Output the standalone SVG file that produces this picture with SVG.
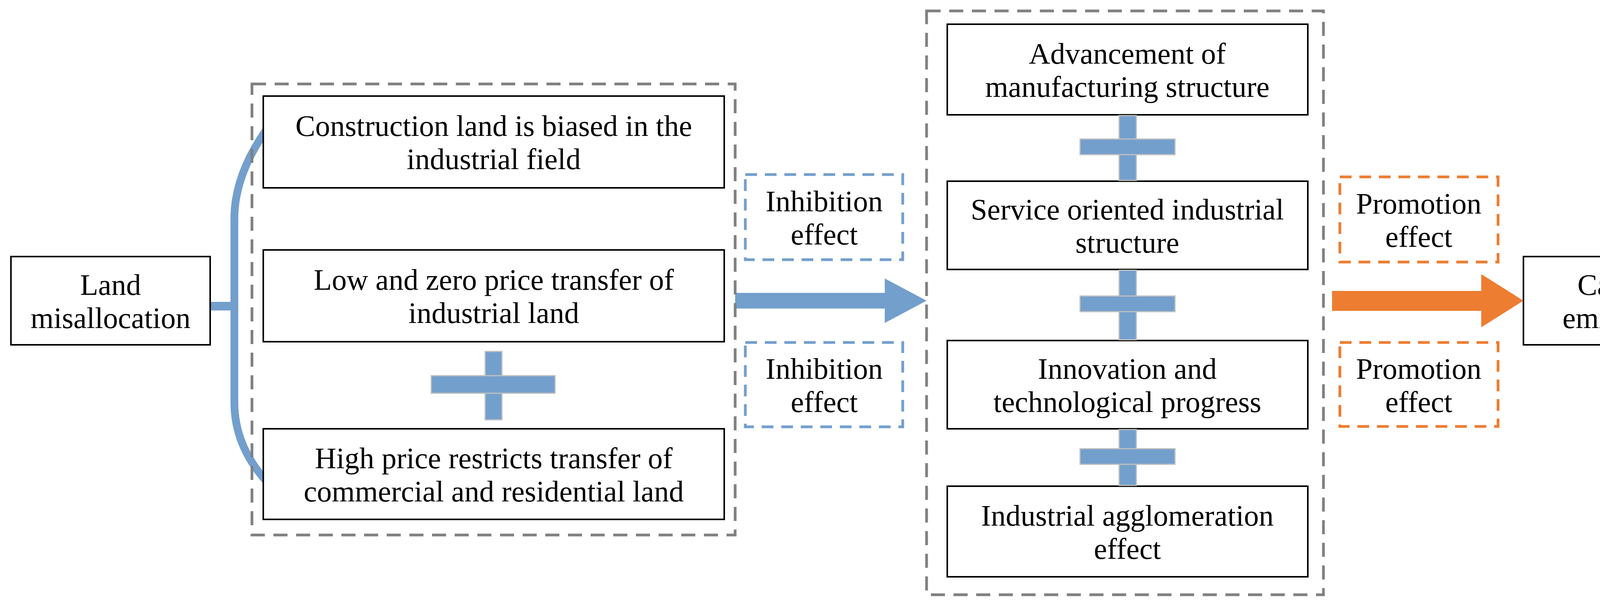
<svg xmlns="http://www.w3.org/2000/svg" width="4437" height="1539" viewBox="0 0 4437 1539">
<style>
.b{fill:#fff;stroke:#000;stroke-width:4}
.g{fill:none;stroke:#808080;stroke-width:7;stroke-dasharray:36,22}
.bl{fill:#fff;stroke:#739fcd;stroke-width:7;stroke-dasharray:30,20}
.or{fill:#fff;stroke:#ed7d31;stroke-width:7;stroke-dasharray:30,20}
.p{fill:#739fcd;stroke:#c0c0c0;stroke-width:3}
text{font-family:"Liberation Serif",serif;font-size:76px;text-anchor:middle;fill:#000}
</style>
<rect x="0" y="0" width="4437" height="1539" fill="#fff"/>
<g id="connectors">
<path d="M538 784 H605" stroke="#739fcd" stroke-width="22" fill="none"/>
<path d="M680 335 Q600 450 600 560 V1030 Q600 1140 680 1230" stroke="#739fcd" stroke-width="20" fill="none"/>
<path d="M1882 750 H2265 V713 L2372 770 L2265 827 V790 H1882 Z" fill="#739fcd"/>
<path d="M3410 745 H3792 V702 L3900 770 L3792 838 V796 H3410 Z" fill="#ed7d31"/>
</g>
<g id="group-left"><rect class="g" x="645" y="215" width="1237" height="1155"/></g>
<g id="group-mid"><rect class="g" x="2372" y="28" width="1016" height="1495"/></g>
<g id="land"><rect class="b" x="28" y="657" width="510" height="226"/><text x="283" y="755">Land</text><text x="283" y="840">misallocation</text></g>
<g id="box1"><rect class="b" x="674" y="246" width="1180" height="235"/><text x="1264" y="348">Construction land is biased in the</text><text x="1264" y="433">industrial field</text></g>
<g id="box2"><rect class="b" x="674" y="640" width="1180" height="235"/><text x="1264" y="742">Low and zero price transfer of</text><text x="1264" y="827">industrial land</text></g>
<g id="box3"><rect class="b" x="674" y="1098" width="1180" height="232"/><text x="1264" y="1199">High price restricts transfer of</text><text x="1264" y="1284">commercial and residential land</text></g>
<g id="plus-left"><rect class="p" x="1242" y="900" width="43" height="175"/><rect class="p" x="1104" y="962" width="317" height="45"/><rect fill="#739fcd" x="1244" y="964" width="39" height="41"/></g>
<g id="inh1"><rect class="bl" x="1908" y="447" width="403" height="218"/><text x="2110" y="541">Inhibition</text><text x="2110" y="626">effect</text></g>
<g id="inh2"><rect class="bl" x="1908" y="877" width="403" height="216"/><text x="2110" y="970">Inhibition</text><text x="2110" y="1055">effect</text></g>
<g id="m1"><rect class="b" x="2425" y="62" width="923" height="232"/><text x="2886" y="163">Advancement of</text><text x="2886" y="248">manufacturing structure</text></g>
<g id="m2"><rect class="b" x="2425" y="464" width="923" height="226"/><text x="2886" y="562">Service oriented industrial</text><text x="2886" y="647">structure</text></g>
<g id="m3"><rect class="b" x="2425" y="872" width="923" height="226"/><text x="2886" y="970">Innovation and</text><text x="2886" y="1055">technological progress</text></g>
<g id="m4"><rect class="b" x="2425" y="1245" width="923" height="232"/><text x="2886" y="1346">Industrial agglomeration</text><text x="2886" y="1431">effect</text></g>
<g id="plus-mid">
<rect class="p" x="2865" y="296" width="44" height="166"/><rect class="p" x="2765" y="356" width="243" height="40"/><rect fill="#739fcd" x="2867" y="358" width="40" height="36"/>
<rect class="p" x="2865" y="692" width="44" height="178"/><rect class="p" x="2765" y="758" width="243" height="40"/><rect fill="#739fcd" x="2867" y="760" width="40" height="36"/>
<rect class="p" x="2865" y="1100" width="44" height="143"/><rect class="p" x="2765" y="1149" width="243" height="40"/><rect fill="#739fcd" x="2867" y="1151" width="40" height="36"/>
</g>
<g id="pro1"><rect class="or" x="3430" y="453" width="405" height="218"/><text x="3632" y="547">Promotion</text><text x="3632" y="632">effect</text></g>
<g id="pro2"><rect class="or" x="3430" y="877" width="405" height="215"/><text x="3632" y="970">Promotion</text><text x="3632" y="1055">effect</text></g>
<g id="carbon"><rect class="b" x="3900" y="657" width="501" height="226"/><text x="4150" y="755">Carbon</text><text x="4150" y="840">emissions</text></g>
</svg>
